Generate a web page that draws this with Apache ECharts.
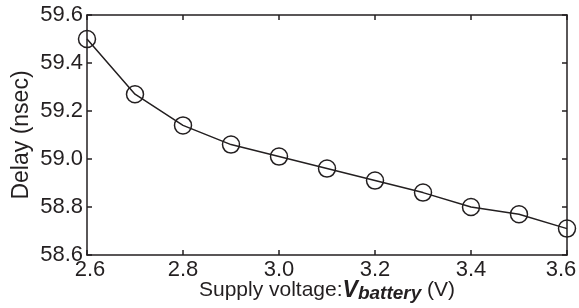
<!DOCTYPE html>
<html>
<head>
<meta charset="utf-8">
<script src="https://cdn.jsdelivr.net/npm/echarts@6/dist/echarts.min.js"></script>
<style>
  html, body { margin: 0; padding: 0; background: #fff; }
  #chart { width: 579px; height: 308px; }
</style>
</head>
<body>
<div id="chart"></div>
<script>
// supply voltage (V) and delay (nsec)
const voltages = [2.6, 2.7, 2.8, 2.9, 3.0, 3.1, 3.2, 3.3, 3.4, 3.5, 3.6]
const delays = [59.50, 59.27, 59.14, 59.06, 59.01, 58.96, 58.91, 58.86, 58.80, 58.77, 58.71]

const ink = '#231f20'
const font = 'Liberation Sans, Arial, sans-serif'

const chart = echarts.init(document.getElementById('chart'))

// shared look for the box axes (ticks pointing in, like matlab)
const boxAxis = {
    axisLine: { show: true, onZero: false, lineStyle: { color: ink, width: 1.5 } },
    axisTick: { show: true, inside: true, length: 5, lineStyle: { color: ink, width: 1.5 } },
    splitLine: { show: false },
}

// end labels sit a bit inward, as in the original
const xLabel = (v) => {
    const s = v.toFixed(1)
    if (Math.abs(v - 3.6) < 1e-6) return '{r|' + s + '}'
    if (Math.abs(v - 2.6) < 1e-6) return '{l|' + s + '}'
    return s
}

const option = {
    animation: false,
    grid: { left: 87, right: 12, top: 15, bottom: 53, outerBoundsMode: 'none', containLabel: false },
    xAxis: [
        {
            type: 'value',
            min: 2.6,
            max: 3.6,
            interval: 0.2,
            ...boxAxis,
            axisLabel: {
                color: ink,
                fontSize: 22,
                fontFamily: font,
                margin: 4,
                formatter: xLabel,
                rich: {
                    r: { fontSize: 22, fontFamily: font, color: ink, padding: [0, 12, 0, 0] },
                    l: { fontSize: 22, fontFamily: font, color: ink, padding: [0, 0, 0, 6] },
                },
            },
            name: '{a|Supply voltage:}{b|V}{c|battery}{a| (V)}',
            nameLocation: 'middle',
            nameGap: 23,
            nameMoveOverlap: false,
            nameTextStyle: {
                rich: {
                    a: { fontSize: 21, fontFamily: font, color: ink },
                    b: { fontSize: 23, fontFamily: font, color: ink, fontWeight: 'bold', fontStyle: 'italic' },
                    c: { fontSize: 19, fontFamily: font, color: ink, fontWeight: 'bold', fontStyle: 'italic', padding: [6, 0, 0, 0] },
                },
            },
        },
        {
            type: 'value',
            position: 'top',
            min: 2.6,
            max: 3.6,
            interval: 0.2,
            ...boxAxis,
            axisLabel: { show: false },
        },
    ],
    yAxis: [
        {
            type: 'value',
            min: 58.6,
            max: 59.6,
            interval: 0.2,
            ...boxAxis,
            axisLabel: {
                color: ink,
                fontSize: 22,
                fontFamily: font,
                margin: 4,
                formatter: (v) => v.toFixed(1),
            },
            name: 'Delay (nsec)',
            nameLocation: 'middle',
            nameGap: 54,
            nameMoveOverlap: false,
            nameTextStyle: { color: ink, fontSize: 23, fontFamily: font },
        },
        {
            type: 'value',
            position: 'right',
            min: 58.6,
            max: 59.6,
            interval: 0.2,
            ...boxAxis,
            axisLabel: { show: false },
        },
    ],
    series: [
        {
            type: 'line',
            data: voltages.map((v, i) => [v, delays[i]]),
            symbol: 'circle',
            symbolSize: 17,
            showAllSymbol: true,
            lineStyle: { color: ink, width: 1.5 },
            itemStyle: { color: 'rgba(0,0,0,0)', borderColor: ink, borderWidth: 1.5 },
            emphasis: { disabled: true },
        },
    ],
}

chart.setOption(option)
</script>
</body>
</html>
